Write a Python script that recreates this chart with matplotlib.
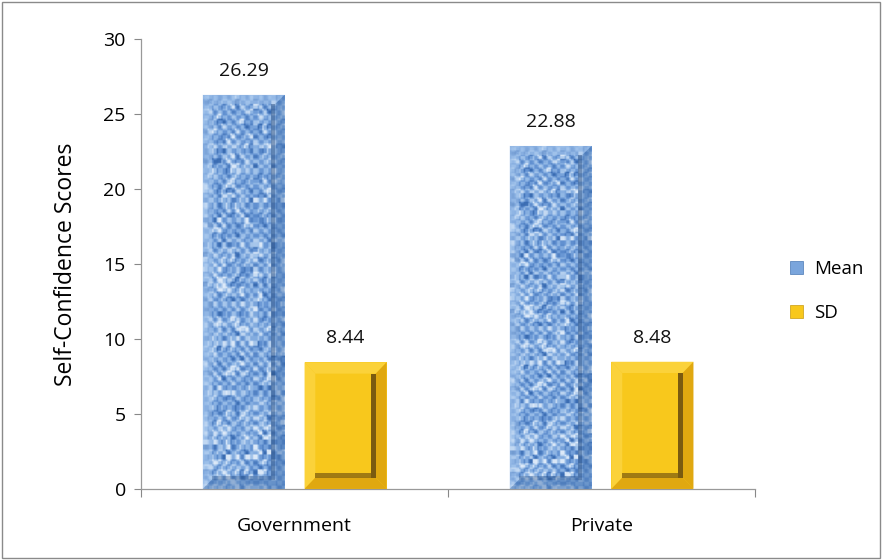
import matplotlib
matplotlib.use('Agg')
import matplotlib.pyplot as plt
from matplotlib.patches import Polygon, Rectangle
import numpy as np

plt.rcParams['font.family'] = ['Open Sans', 'DejaVu Sans']

groups = ['Government', 'Private']
mean_vals = [26.29, 22.88]
sd_vals = [8.44, 8.48]
series_names = ['Mean', 'SD']

fig = plt.figure(figsize=(8.82, 5.6), dpi=100)
ax = fig.add_axes([0.160, 0.127, 0.696, 0.803])

x = np.arange(len(groups))
w = 0.267
off = 0.166

blue = '#7aa5dc'
gold = '#f8c81c'

b_mean = ax.bar(x - off, mean_vals, w, color=blue, label=series_names[0], zorder=2)
b_sd = ax.bar(x + off, sd_vals, w, color=gold, label=series_names[1], zorder=2)

# woven cloth texture for the mean bars
rng = np.random.default_rng(7)
ty, tx = 240, 54
jj, ii = np.meshgrid(np.arange(tx), np.arange(ty))
weave = 0.55 + 0.14 * np.sign(np.sin(jj * np.pi / 3.0)) * np.sign(np.sin(ii * np.pi / 3.0))
noise = rng.normal(0, 0.2, (ty // 3 + 1, tx // 3 + 1))
noise = np.kron(noise, np.ones((3, 3)))[:ty, :tx]
tex = np.clip(weave + noise, 0, 1)
cloth = matplotlib.colors.LinearSegmentedColormap.from_list(
    'cloth', ['#3a6cb2', '#6392d2', '#93b9e6', '#dce9f8'])
for p in b_mean:
    x0, y0 = p.get_x(), p.get_y()
    im = ax.imshow(tex, cmap=cloth, extent=[x0, x0 + p.get_width(), y0, y0 + p.get_height()],
                   aspect='auto', interpolation='bilinear', zorder=2.5)
    im.set_clip_path(p)


def bevel(p, bx, by, light, dark, inner_dark, alpha=1.0):
    x0, y0 = p.get_x(), p.get_y()
    x1, y1 = x0 + p.get_width(), y0 + p.get_height()
    polys = [
        ([(x0, y1), (x1, y1), (x1 - bx, y1 - by), (x0 + bx, y1 - by)], light),
        ([(x0, y0), (x0, y1), (x0 + bx, y1 - by), (x0 + bx, y0 + by)], light),
        ([(x1, y0), (x1, y1), (x1 - bx, y1 - by), (x1 - bx, y0 + by)], dark),
        ([(x0, y0), (x1, y0), (x1 - bx, y0 + by), (x0 + bx, y0 + by)], dark),
    ]
    for pts, c in polys:
        ax.add_patch(Polygon(pts, closed=True, facecolor=c, edgecolor='none', alpha=alpha, zorder=3))
    # inner shadow on right and bottom edges
    ax.add_patch(Rectangle((x1 - bx - 0.014, y0 + by), 0.014, (y1 - y0) - 2 * by,
                           facecolor=inner_dark, edgecolor='none', alpha=alpha, zorder=3.1))
    ax.add_patch(Rectangle((x0 + bx, y0 + by), (x1 - x0) - 2 * bx - 0.014, 0.28,
                           facecolor=inner_dark, edgecolor='none', alpha=alpha * 0.7, zorder=3.1))


for p in b_sd:
    bevel(p, 0.035, 0.75, '#fbd23a', '#e0a810', '#7a5a10')
for p in b_mean:
    bevel(p, 0.03, 0.6, '#a8c8ee', '#4a78b4', '#2a4f82', alpha=0.5)

for bars, vals in ((b_mean, mean_vals), (b_sd, sd_vals)):
    for p, v in zip(bars, vals):
        ax.text(p.get_x() + p.get_width() / 2, v + 1.0, f'{v:.2f}', ha='center', va='bottom',
                fontsize=14, color='#111111')

ax.set_xlim(-0.5, 1.5)
ax.set_ylim(0, 30)
ax.set_yticks(np.arange(0, 31, 5))
ax.tick_params(axis='y', length=5, width=0.8, color='#888888', labelsize=14, pad=6)
ax.set_xticks(x)
ax.set_xticklabels(groups, fontsize=14)
ax.tick_params(axis='x', length=0, pad=20)
ax.set_xticks([-0.5, 0.5, 1.5], minor=True)
ax.tick_params(axis='x', which='minor', length=6, width=0.8, color='#888888')

for s in ('top', 'right'):
    ax.spines[s].set_visible(False)
for s in ('left', 'bottom'):
    ax.spines[s].set_color('#999999')
    ax.spines[s].set_linewidth(0.9)

ax.set_ylabel('Self-Confidence Scores', fontsize=16.5, labelpad=18)

handles = [Rectangle((0, 0), 1, 1, facecolor=blue, edgecolor='#4a78b4', linewidth=0.5),
           Rectangle((0, 0), 1, 1, facecolor=gold, edgecolor='#c89a10', linewidth=0.5)]
fig.legend(handles, series_names, loc='center left', bbox_to_anchor=(0.876, 0.48),
           frameon=False, fontsize=13.5, handlelength=0.7, handleheight=0.7,
           handletextpad=0.6, labelspacing=1.4)

fig.add_artist(Rectangle((0.002, 0.003), 0.996, 0.994, transform=fig.transFigure,
                         fill=False, edgecolor='#8a8a8a', linewidth=1.0))

fig.savefig('out.png', dpi=100)
